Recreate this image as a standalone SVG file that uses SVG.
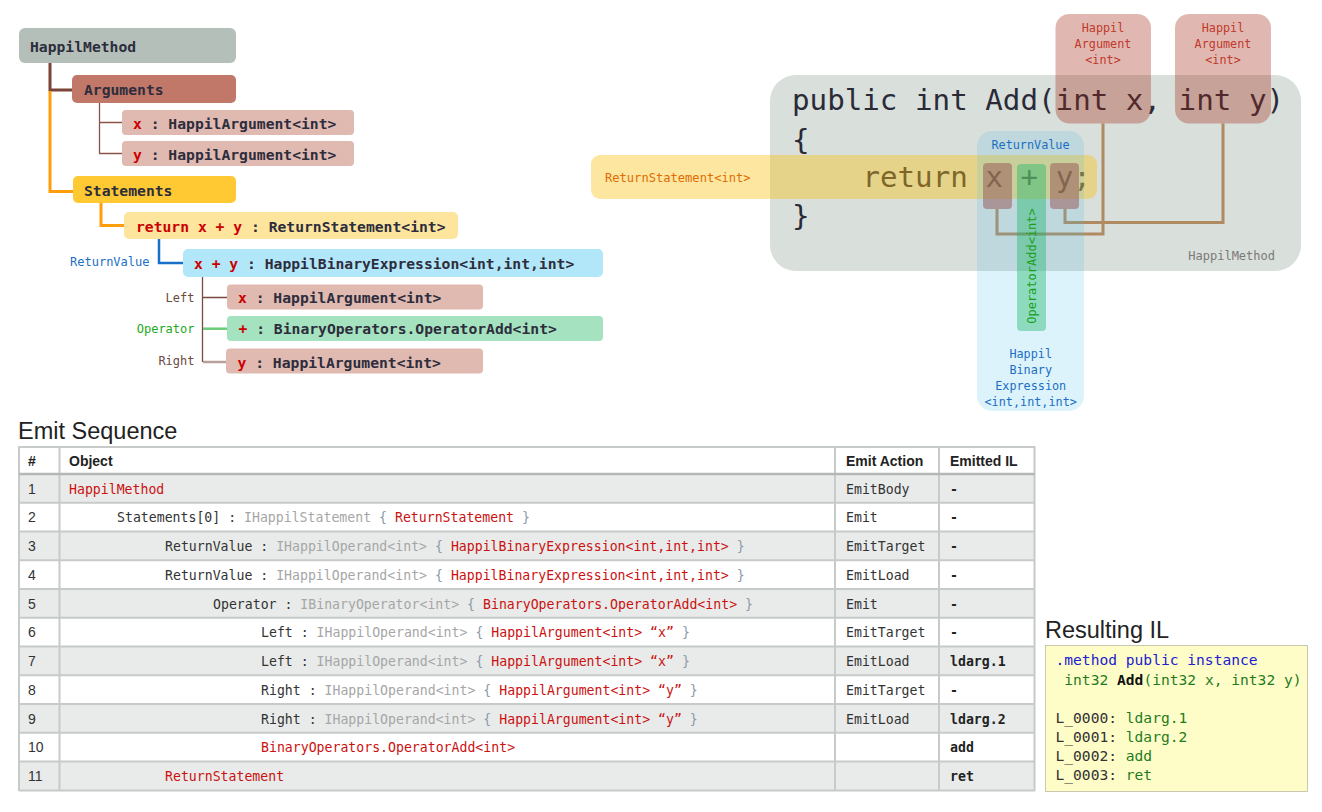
<svg xmlns="http://www.w3.org/2000/svg" width="1322" height="812" viewBox="0 0 1322 812">
<style>
.m{font-family:"DejaVu Sans Mono","Liberation Mono",monospace}
.s{font-family:"Liberation Sans",Arial,sans-serif}
.tb{font-size:14.7px;font-weight:bold;fill:#2d2d3c}
.r{fill:#cc0000}
.lbl{font-size:12px}
.code{font-size:29.2px;fill:#2b2b38}
.tc{font-size:13.2px;fill:#333}
.g{fill:#a6a6a6}
.b{fill:#8d99a8}
.rd{fill:#cc1111}
.il{font-size:13.2px;font-weight:bold;fill:#222}
.num{font-size:14px;fill:#333}
.hd{font-size:14px;font-weight:bold;fill:#222}
.ttl{font-size:23.5px;fill:#222}
.ilt{font-size:14.6px}
.grid{stroke:#c6cac8;stroke-width:2;fill:none}
.argov{fill:#a12813;opacity:.33}
.argl{font-size:11.8px;fill:#c0392b;text-anchor:middle}
.bl{font-size:11.8px;fill:#1a6fc4;text-anchor:middle}
.tok{fill:#965354;opacity:.5}
</style>

<!-- ===== Tree ===== -->
<g id="tree-connectors" fill="none">
  <path d="M50,63 V90 H72" stroke="#7a4438" stroke-width="3"/>
  <path d="M50,91 V191.5 H73" stroke="#ff9e0b" stroke-width="3"/>
  <path d="M99.5,103 V153.5 H122 M99.5,122.5 H122" stroke="#8b5448" stroke-width="1.3"/>
  <path d="M101,203 V225.5 H124" stroke="#ff9e0b" stroke-width="3"/>
  <path d="M159,239 V263 H183" stroke="#1a70c8" stroke-width="2.5"/>
  <path d="M202.5,277 V362 M202.5,297.5 H227" stroke="#7a4a40" stroke-width="1.3"/>
  <path d="M203,328.7 H227" stroke="#6acb78" stroke-width="2.5"/>
  <path d="M203,362 H227" stroke="#b8a09a" stroke-width="2.5"/>
</g>

<g id="node-happilmethod">
  <rect x="19" y="28" width="217" height="35" rx="6" fill="#b4bfb9"/>
  <text x="30" y="52" class="m tb">HappilMethod</text>
</g>
<g id="node-arguments">
  <rect x="72" y="75" width="164" height="28" rx="5" fill="#c27869"/>
  <text x="84" y="95" class="m tb">Arguments</text>
</g>
<g id="node-arg-x">
  <rect x="122" y="110" width="232" height="25" rx="4" fill="#e0b9b1"/>
  <text x="133" y="128.5" class="m tb"><tspan class="r">x</tspan> : HappilArgument&lt;int&gt;</text>
</g>
<g id="node-arg-y">
  <rect x="122" y="141" width="232" height="25" rx="4" fill="#e0b9b1"/>
  <text x="133" y="159.5" class="m tb"><tspan class="r">y</tspan> : HappilArgument&lt;int&gt;</text>
</g>
<g id="node-statements">
  <rect x="73" y="176" width="163" height="27" rx="5" fill="#fec932"/>
  <text x="84" y="196" class="m tb">Statements</text>
</g>
<g id="node-return">
  <rect x="124" y="212" width="334" height="27" rx="5" fill="#fde59e"/>
  <text x="136" y="232" class="m tb"><tspan class="r">return x + y</tspan> : ReturnStatement&lt;int&gt;</text>
</g>
<g id="node-binary">
  <text x="149.5" y="265.5" class="m lbl" fill="#1a6fc4" text-anchor="end">ReturnValue</text>
  <rect x="183" y="249" width="420" height="28" rx="5" fill="#b2e6f9"/>
  <text x="194" y="268.5" class="m tb"><tspan class="r">x + y</tspan> : HappilBinaryExpression&lt;int,int,int&gt;</text>
</g>
<g id="node-left">
  <text x="194.5" y="301.5" class="m lbl" fill="#6b4a40" text-anchor="end">Left</text>
  <rect x="227" y="284.5" width="256" height="25" rx="4" fill="#e0b9b1"/>
  <text x="238" y="302.5" class="m tb"><tspan class="r">x</tspan> : HappilArgument&lt;int&gt;</text>
</g>
<g id="node-operator">
  <text x="194.5" y="333" class="m lbl" fill="#22aa22" text-anchor="end">Operator</text>
  <rect x="227" y="316" width="376" height="25" rx="4" fill="#a5e3c0"/>
  <text x="238.5" y="334" class="m tb"><tspan class="r">+</tspan> : BinaryOperators.OperatorAdd&lt;int&gt;</text>
</g>
<g id="node-right">
  <text x="194.5" y="364.5" class="m lbl" fill="#6b4a40" text-anchor="end">Right</text>
  <rect x="226" y="348.5" width="257" height="25" rx="4" fill="#e0b9b1"/>
  <text x="237.5" y="367.5" class="m tb"><tspan class="r">y</tspan> : HappilArgument&lt;int&gt;</text>
</g>

<!-- ===== Code diagram ===== -->
<g id="code-method">
  <rect x="770" y="75" width="531" height="196" rx="26" fill="#d9dfdb"/>
  <text x="792" y="110" class="m code">public int Add(int x, int y)</text>
  <text x="792" y="150" class="m code">{</text>
  <text x="862.4" y="187" class="m code">return x + y;</text>
  <text x="792" y="226" class="m code">}</text>
  <text x="1275" y="260" class="m lbl" fill="#7a7a7a" text-anchor="end">HappilMethod</text>
</g>
<g id="code-returnstatement">
  <rect x="591" y="155" width="506" height="44" rx="9" fill="#fac112" opacity=".4"/>
  <text x="605" y="182" class="m" font-size="12.1" fill="#e06c00">ReturnStatement&lt;int&gt;</text>
</g>
<g id="code-connectors" fill="none" stroke="#b08a60" stroke-width="3">
  <path d="M997,209 V234 H1103 V123.5"/>
  <path d="M1065,209 V222.5 H1223 V123.5"/>
</g>
<g id="code-binary">
  <rect x="977" y="131" width="107" height="280" rx="15" fill="#42bce9" opacity=".18"/>
  <text x="1030.5" y="149" class="m bl">ReturnValue</text>
  <text x="1030.7" y="357.5" class="m bl">Happil</text>
  <text x="1030.7" y="374" class="m bl">Binary</text>
  <text x="1030.7" y="390" class="m bl">Expression</text>
  <text x="1030.7" y="406" class="m bl">&lt;int,int,int&gt;</text>
</g>
<g id="code-x">
  <rect x="983" y="163" width="29" height="46" rx="4" class="tok"/>
</g>
<g id="code-operator">
  <rect x="1017" y="164" width="29" height="167" rx="4" fill="#17b767" opacity=".4"/>
  <text transform="translate(1036,266) rotate(-90)" class="m" font-size="12" fill="#1a9e1a" text-anchor="middle">OperatorAdd&lt;int&gt;</text>
</g>
<g id="code-y">
  <rect x="1050" y="163" width="29" height="46" rx="4" class="tok"/>
</g>
<g id="code-arg-x">
  <rect x="1055.5" y="14" width="95.5" height="109.5" rx="14" class="argov"/>
  <text x="1103" y="32" class="m argl">Happil</text>
  <text x="1103" y="48" class="m argl">Argument</text>
  <text x="1103" y="64" class="m argl">&lt;int&gt;</text>
</g>
<g id="code-arg-y">
  <rect x="1175" y="14" width="96" height="109.5" rx="14" class="argov"/>
  <text x="1223" y="32" class="m argl">Happil</text>
  <text x="1223" y="48" class="m argl">Argument</text>
  <text x="1223" y="64" class="m argl">&lt;int&gt;</text>
</g>

<!-- ===== Emit Sequence table ===== -->
<text x="18" y="438.5" class="s ttl">Emit Sequence</text>
<g id="emit-table">
  <rect x="19" y="447" width="1016" height="27" fill="#fff"/>
  <rect x="19" y="474" width="1016" height="28.75" fill="#e8ebea"/>
  <rect x="19" y="502.75" width="1016" height="28.75" fill="#fff"/>
  <rect x="19" y="531.5" width="1016" height="28.75" fill="#e8ebea"/>
  <rect x="19" y="560.25" width="1016" height="28.75" fill="#fff"/>
  <rect x="19" y="589" width="1016" height="28.75" fill="#e8ebea"/>
  <rect x="19" y="617.75" width="1016" height="28.75" fill="#fff"/>
  <rect x="19" y="646.5" width="1016" height="28.75" fill="#e8ebea"/>
  <rect x="19" y="675.25" width="1016" height="28.75" fill="#fff"/>
  <rect x="19" y="704" width="1016" height="28.75" fill="#e8ebea"/>
  <rect x="19" y="732.75" width="1016" height="28.75" fill="#fff"/>
  <rect x="19" y="761.5" width="1016" height="28.75" fill="#e8ebea"/>
  <path class="grid" d="M19,447 H1035 M19,502.75 H1035 M19,531.5 H1035 M19,560.25 H1035 M19,589 H1035 M19,617.75 H1035 M19,646.5 H1035 M19,675.25 H1035 M19,704 H1035 M19,732.75 H1035 M19,761.5 H1035 M19,790.5 H1035 M19,446 V791 M59.5,446 V791 M835,446 V791 M939,446 V791 M1034.5,446 V791"/>
  <path d="M19,474 H1035" stroke="#b3b8b5" stroke-width="2.5"/>

  <text x="28" y="466" class="s hd">#</text>
  <text x="69" y="466" class="s hd">Object</text>
  <text x="846" y="466" class="s hd">Emit Action</text>
  <text x="950" y="466" class="s hd">Emitted IL</text>

  <g class="s num">
    <text x="28" y="493.5">1</text>
    <text x="28" y="522.25">2</text>
    <text x="28" y="551">3</text>
    <text x="28" y="579.75">4</text>
    <text x="28" y="608.5">5</text>
    <text x="28" y="637.25">6</text>
    <text x="28" y="666">7</text>
    <text x="28" y="694.75">8</text>
    <text x="28" y="723.5">9</text>
    <text x="28" y="752.25">10</text>
    <text x="28" y="781">11</text>
  </g>

  <g class="m tc">
    <text x="69" y="493.5"><tspan class="rd">HappilMethod</tspan></text>
    <text x="117" y="522.25">Statements[0] : <tspan class="g">IHappilStatement</tspan> <tspan class="b">{</tspan> <tspan class="rd">ReturnStatement</tspan> <tspan class="b">}</tspan></text>
    <text x="165" y="551">ReturnValue : <tspan class="g">IHappilOperand&lt;int&gt;</tspan> <tspan class="b">{</tspan> <tspan class="rd">HappilBinaryExpression&lt;int,int,int&gt;</tspan> <tspan class="b">}</tspan></text>
    <text x="165" y="579.75">ReturnValue : <tspan class="g">IHappilOperand&lt;int&gt;</tspan> <tspan class="b">{</tspan> <tspan class="rd">HappilBinaryExpression&lt;int,int,int&gt;</tspan> <tspan class="b">}</tspan></text>
    <text x="213" y="608.5">Operator : <tspan class="g">IBinaryOperator&lt;int&gt;</tspan> <tspan class="b">{</tspan> <tspan class="rd">BinaryOperators.OperatorAdd&lt;int&gt;</tspan> <tspan class="b">}</tspan></text>
    <text x="261" y="637.25">Left : <tspan class="g">IHappilOperand&lt;int&gt;</tspan> <tspan class="b">{</tspan> <tspan class="rd">HappilArgument&lt;int&gt; “x”</tspan> <tspan class="b">}</tspan></text>
    <text x="261" y="666">Left : <tspan class="g">IHappilOperand&lt;int&gt;</tspan> <tspan class="b">{</tspan> <tspan class="rd">HappilArgument&lt;int&gt; “x”</tspan> <tspan class="b">}</tspan></text>
    <text x="261" y="694.75">Right : <tspan class="g">IHappilOperand&lt;int&gt;</tspan> <tspan class="b">{</tspan> <tspan class="rd">HappilArgument&lt;int&gt; “y”</tspan> <tspan class="b">}</tspan></text>
    <text x="261" y="723.5">Right : <tspan class="g">IHappilOperand&lt;int&gt;</tspan> <tspan class="b">{</tspan> <tspan class="rd">HappilArgument&lt;int&gt; “y”</tspan> <tspan class="b">}</tspan></text>
    <text x="261" y="752.25"><tspan class="rd">BinaryOperators.OperatorAdd&lt;int&gt;</tspan></text>
    <text x="165" y="781"><tspan class="rd">ReturnStatement</tspan></text>

    <text x="846" y="493.5">EmitBody</text>
    <text x="846" y="522.25">Emit</text>
    <text x="846" y="551">EmitTarget</text>
    <text x="846" y="579.75">EmitLoad</text>
    <text x="846" y="608.5">Emit</text>
    <text x="846" y="637.25">EmitTarget</text>
    <text x="846" y="666">EmitLoad</text>
    <text x="846" y="694.75">EmitTarget</text>
    <text x="846" y="723.5">EmitLoad</text>
  </g>
  <g class="m il">
    <text x="950" y="493.5">-</text>
    <text x="950" y="522.25">-</text>
    <text x="950" y="551">-</text>
    <text x="950" y="579.75">-</text>
    <text x="950" y="608.5">-</text>
    <text x="950" y="637.25">-</text>
    <text x="950" y="666">ldarg.1</text>
    <text x="950" y="694.75">-</text>
    <text x="950" y="723.5">ldarg.2</text>
    <text x="950" y="752.25">add</text>
    <text x="950" y="781">ret</text>
  </g>
</g>

<!-- ===== Resulting IL ===== -->
<text x="1045" y="638" class="s ttl">Resulting IL</text>
<g id="resulting-il">
  <rect x="1045.5" y="645.5" width="262" height="146" fill="#fefdc8" stroke="#c9c9b0" stroke-width="1"/>
  <g class="m ilt">
    <text x="1055.5" y="665" fill="#2020d0">.method public instance</text>
    <text x="1064.3" y="684.5" fill="#1e7b1e">int32 <tspan font-weight="bold" fill="#111">Add</tspan>(int32 x, int32 y)</text>
    <text x="1055.5" y="723" fill="#333">L_0000: <tspan fill="#1e7b1e">ldarg.1</tspan></text>
    <text x="1055.5" y="742" fill="#333">L_0001: <tspan fill="#1e7b1e">ldarg.2</tspan></text>
    <text x="1055.5" y="761" fill="#333">L_0002: <tspan fill="#1e7b1e">add</tspan></text>
    <text x="1055.5" y="779.5" fill="#333">L_0003: <tspan fill="#1e7b1e">ret</tspan></text>
  </g>
</g>
</svg>
